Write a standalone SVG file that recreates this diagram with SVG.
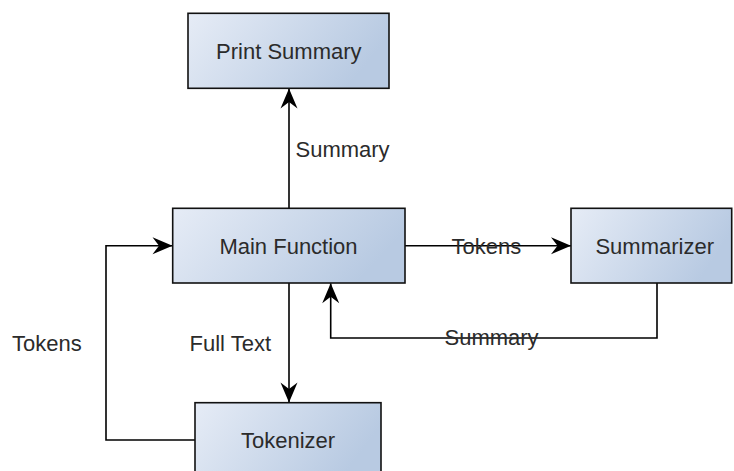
<svg xmlns="http://www.w3.org/2000/svg" width="734" height="471" viewBox="0 0 734 471">
  <defs>
    <linearGradient id="boxFill" x1="0" y1="0" x2="1" y2="0.3">
      <stop offset="0" stop-color="#e6ecf6"/>
      <stop offset="1" stop-color="#b8cae2"/>
    </linearGradient>
    <marker id="arrow" viewBox="-21 -10 22 20" refX="0" refY="0" markerWidth="22" markerHeight="20" markerUnits="userSpaceOnUse" orient="auto">
      <path d="M0,0 L-20,-8.5 L-13.5,0 L-20,8.5 Z" fill="#000"/>
    </marker>
    <style>
      .box { fill: url(#boxFill); stroke: #111; stroke-width: 1.6; }
      .label { font-family: "Liberation Sans", Arial, sans-serif; font-size: 22px; fill: #2b2b2b; }
      .center { text-anchor: middle; }
      .edge { fill: none; stroke: #000; stroke-width: 1.6; marker-end: url(#arrow); }
    </style>
  </defs>
  <rect width="734" height="471" fill="#fff"/>

  <g id="connectors">
    <path class="edge" d="M289,208.3 V88.5"/>
    <path class="edge" d="M405,245.7 H571"/>
    <path class="edge" d="M657,283 V338 H330.7 V283.2"/>
    <path class="edge" d="M289,283 V402.6"/>
    <path class="edge" d="M195,440 H106 V245.7 H172.5"/>
    <text class="label" x="295.5" y="157">Summary</text>
    <text class="label" x="451.5" y="253.5">Tokens</text>
    <text class="label" x="444.5" y="345">Summary</text>
    <text class="label" x="189.5" y="351">Full Text</text>
    <text class="label" x="12" y="351">Tokens</text>
  </g>

  <g id="print-summary">
    <rect class="box" x="188" y="13.3" width="201" height="75"/>
    <text class="label center" x="288.8" y="59">Print Summary</text>
  </g>

  <g id="main-function">
    <rect class="box" x="172.7" y="208.3" width="232.3" height="74.7"/>
    <text class="label center" x="288.5" y="253.5">Main Function</text>
  </g>

  <g id="summarizer">
    <rect class="box" x="571" y="208.3" width="160.7" height="74.7"/>
    <text class="label center" x="654.7" y="253.5">Summarizer</text>
  </g>

  <g id="tokenizer">
    <rect class="box" x="195" y="402.7" width="186" height="75"/>
    <text class="label center" x="288" y="448">Tokenizer</text>
  </g>
</svg>
